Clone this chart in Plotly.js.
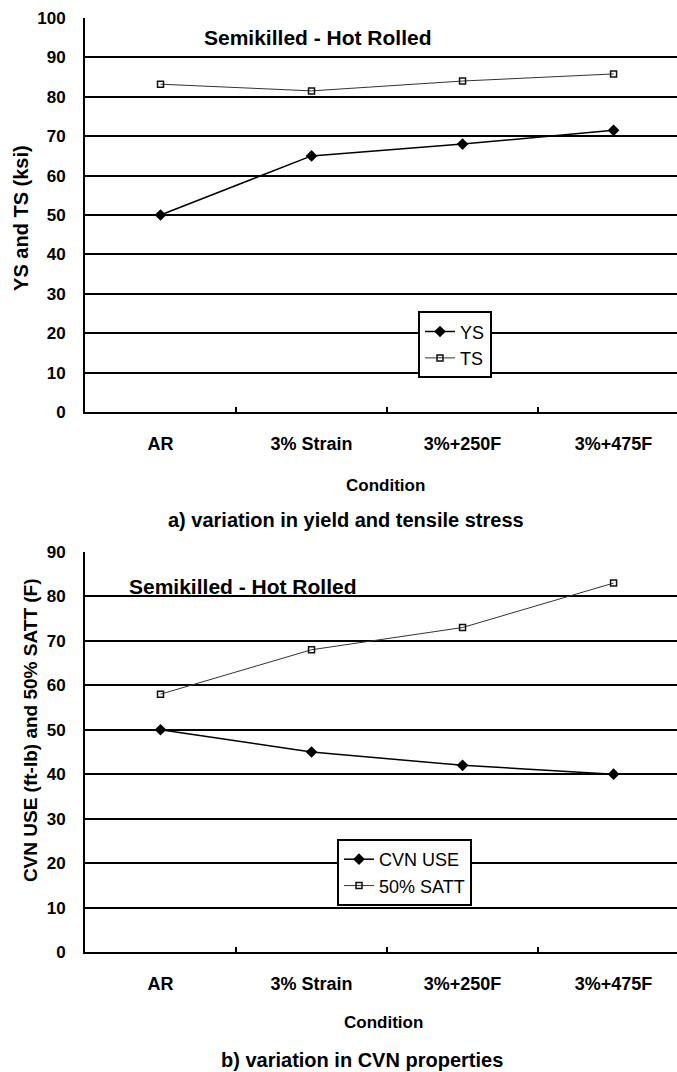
<!DOCTYPE html>
<html>
<head>
<meta charset="utf-8">
<script src="https://cdn.plot.ly/plotly-3.0.1.min.js"></script>
<style>html,body{margin:0;padding:0;background:#fff;}#chart{width:677px;height:1072px;}</style>
</head>
<body>
<div id="chart"></div>
<script>
// Data
const categories = ['AR', '3% Strain', '3%+250F', '3%+475F'];
const ysValues = [50, 65, 68, 71.5];
const tsValues = [83.2, 81.5, 84, 85.8];
const cvnUseValues = [50, 45, 42, 40];
const sattValues = [58, 68, 73, 83];

const FONT = 'Liberation Sans, Arial, Helvetica, sans-serif';

const traces = [
  {x: categories, y: ysValues, name: 'YS', mode: 'lines+markers', xaxis: 'x', yaxis: 'y', legend: 'legend',
   line: {color: '#000', width: 1.5}, marker: {symbol: 'diamond', size: 9, color: '#000'}},
  {x: categories, y: tsValues, name: 'TS', mode: 'lines+markers', xaxis: 'x', yaxis: 'y', legend: 'legend',
   line: {color: '#333', width: 1}, marker: {symbol: 'square-open', size: 6, color: '#111', line: {width: 1.5}}},
  {x: categories, y: cvnUseValues, name: 'CVN USE', mode: 'lines+markers', xaxis: 'x2', yaxis: 'y2', legend: 'legend2',
   line: {color: '#000', width: 1.5}, marker: {symbol: 'diamond', size: 9, color: '#000'}},
  {x: categories, y: sattValues, name: '50% SATT', mode: 'lines+markers', xaxis: 'x2', yaxis: 'y2', legend: 'legend2',
   line: {color: '#333', width: 1}, marker: {symbol: 'square-open', size: 6, color: '#111', line: {width: 1.5}}}
];

function xAxis(anchor) {
  return {domain: [0, 1], anchor: anchor, type: 'category', categoryarray: categories,
    range: [-0.5, 3.42], showgrid: false, zeroline: false, showline: true, linecolor: '#000', linewidth: 2,
    ticks: 'inside', tickson: 'boundaries', ticklen: 5, tickwidth: 1.5, tickcolor: '#000',
    tickfont: {size: 18, weight: 'bold', color: '#000'}, ticklabelstandoff: 14, fixedrange: true};
}
function yAxis(anchor, domain, max) {
  return {domain: domain, anchor: anchor, range: [0, max], dtick: 10, showgrid: true, gridcolor: '#000', gridwidth: 2,
    zeroline: false, showline: true, linecolor: '#000', linewidth: 2, ticks: '',
    tickfont: {size: 17, weight: 'bold', color: '#000'}, ticklabelstandoff: 14, fixedrange: true};
}

const legendBase = {xanchor: 'left', yanchor: 'top', bordercolor: '#000', borderwidth: 2, bgcolor: '#fff',
  font: {size: 18, color: '#000', family: FONT}};

const layout = {
  width: 677, height: 1072,
  margin: {l: 85, r: 0, t: 18, b: 120},
  paper_bgcolor: '#fff', plot_bgcolor: '#fff',
  font: {family: FONT, color: '#000'},
  showlegend: true,
  xaxis: xAxis('y'),
  yaxis: yAxis('x', [0.5782, 1], 100),
  xaxis2: xAxis('y2'),
  yaxis2: yAxis('x2', [0, 0.4283], 90),
  legend: Object.assign({x: 0.5625, y: 0.686}, legendBase),
  legend2: Object.assign({x: 0.4257, y: 0.121}, legendBase),
  annotations: [
    {text: 'Semikilled - Hot Rolled', xref: 'paper', yref: 'paper', x: 0.394, y: 0.9786, showarrow: false,
     xanchor: 'center', yanchor: 'middle', font: {size: 21, weight: 'bold'}},
    {text: 'Semikilled - Hot Rolled', xref: 'paper', yref: 'paper', x: 0.267, y: 0.391, showarrow: false,
     xanchor: 'center', yanchor: 'middle', font: {size: 21, weight: 'bold'}},
    {text: 'Condition', xref: 'paper', yref: 'paper', x: 0.508, y: 0.5, showarrow: false,
     xanchor: 'center', yanchor: 'middle', font: {size: 17, weight: 'bold'}},
    {text: 'a) variation in yield and tensile stress', xref: 'paper', yref: 'paper', x: 0.441, y: 0.4625, showarrow: false,
     xanchor: 'center', yanchor: 'middle', font: {size: 20, weight: 'bold'}},
    {text: 'Condition', xref: 'paper', yref: 'paper', x: 0.505, y: -0.076, showarrow: false,
     xanchor: 'center', yanchor: 'middle', font: {size: 17, weight: 'bold'}},
    {text: 'b) variation in CVN properties', xref: 'paper', yref: 'paper', x: 0.468, y: -0.1156, showarrow: false,
     xanchor: 'center', yanchor: 'middle', font: {size: 20, weight: 'bold'}},
    {text: 'YS and TS (ksi)', xref: 'paper', yref: 'paper', x: -0.108, y: 0.786, showarrow: false, textangle: -90,
     xanchor: 'center', yanchor: 'middle', font: {size: 20, weight: 'bold'}},
    {text: 'CVN USE (ft-lb) and 50% SATT (F)', xref: 'paper', yref: 'paper', x: -0.091, y: 0.2377, showarrow: false, textangle: -90,
     xanchor: 'center', yanchor: 'middle', font: {size: 19, weight: 'bold'}}
  ]
};

Plotly.newPlot('chart', traces, layout, {displayModeBar: false, staticPlot: true});
</script>
</body>
</html>
